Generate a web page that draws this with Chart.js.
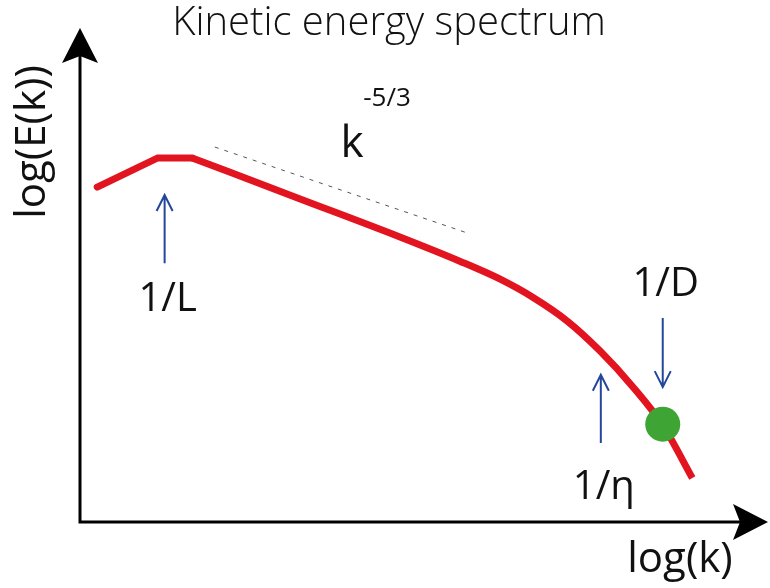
<!DOCTYPE html>
<html>
<head>
<meta charset="utf-8">
<script src="https://cdn.jsdelivr.net/npm/chart.js@4"></script>
<style>
  html, body { margin: 0; padding: 0; background: #fff; }
  #wrap { width: 770px; height: 588px; }
</style>
</head>
<body>
<div id="wrap"><canvas id="chart" width="770" height="588"></canvas></div>
<script>
// spectrum curve, log(k) vs log(E(k)) in arbitrary units (0..10)
// energy-containing part (straight segments round the peak)
const peakK = [0.25, 1.13, 1.63];
const peakE = [6.78, 7.37, 7.37];
// inertial and dissipation range
const tailK = [1.63, 3.2, 4.65, 5.52, 6.1, 6.58, 7.08, 7.56, 8.04, 8.47, 8.9];
const tailE = [7.37, 6.54, 5.77, 5.28, 4.92, 4.55, 4.07, 3.46, 2.73, 1.96, 0.89];

// k^-5/3 guide line
const slopeK = [1.96, 5.63];
const slopeE = [7.59, 5.85];

// dissipation point 1/D
const dotK = [8.47];
const dotE = [1.98];

// marker arrows: x, from y, to y
const arrowNames = ['1/L', '1/η', '1/D'];
const arrowK = [1.23, 7.57, 8.47];
const arrowFrom = [5.24, 1.6, 4.13];
const arrowTo = [6.62, 2.98, 2.73];
const arrowLabelE = [4.5, 0.7, 4.8];

const titleText = 'Kinetic energy spectrum';
const xTitle = 'log(k)';
const yTitle = 'log(E(k))';

const red = '#e2141f';
const blue = '#24479b';
const green = '#3ea535';

function pts(xs, ys) {
    return xs.map((x, i) => ({ x: x, y: ys[i] }));
}

// axes with arrow heads, arrows and labels
const sketchPlugin = {
    id: 'sketch',
    beforeDatasetsDraw(chart) {
        const ctx = chart.ctx;
        const sx = chart.scales.x, sy = chart.scales.y;
        const x0 = sx.getPixelForValue(0), y0 = sy.getPixelForValue(0);
        const xt = sx.getPixelForValue(10), yt = sy.getPixelForValue(10);
        ctx.save();
        ctx.strokeStyle = '#000';
        ctx.fillStyle = '#000';
        ctx.lineWidth = 3;
        ctx.beginPath();
        ctx.moveTo(x0, yt + 20);
        ctx.lineTo(x0, y0);
        ctx.lineTo(xt - 20, y0);
        ctx.stroke();
        // vertical arrow head
        ctx.beginPath();
        ctx.moveTo(x0, yt);
        ctx.lineTo(x0 + 18, yt + 35);
        ctx.lineTo(x0, yt + 28);
        ctx.lineTo(x0 - 18, yt + 35);
        ctx.closePath();
        ctx.fill();
        // horizontal arrow head
        ctx.beginPath();
        ctx.moveTo(xt, y0);
        ctx.lineTo(xt - 35, y0 - 18);
        ctx.lineTo(xt - 28, y0);
        ctx.lineTo(xt - 35, y0 + 18);
        ctx.closePath();
        ctx.fill();
        ctx.restore();
    },
    afterDatasetsDraw(chart) {
        const ctx = chart.ctx;
        const sx = chart.scales.x, sy = chart.scales.y;
        ctx.save();
        // blue arrows
        ctx.strokeStyle = blue;
        ctx.lineWidth = 2;
        arrowK.forEach((k, i) => {
            const px = sx.getPixelForValue(k);
            const pa = sy.getPixelForValue(arrowFrom[i]);
            const pb = sy.getPixelForValue(arrowTo[i]);
            const dir = pb < pa ? 1 : -1;
            ctx.beginPath();
            ctx.moveTo(px, pa);
            ctx.lineTo(px, pb);
            ctx.moveTo(px - 8, pb + dir * 16);
            ctx.lineTo(px, pb);
            ctx.lineTo(px + 8, pb + dir * 16);
            ctx.stroke();
        });
        // arrow labels
        ctx.fillStyle = '#111';
        ctx.font = '40px "Open Sans", sans-serif';
        ctx.textAlign = 'center';
        ctx.textBaseline = 'middle';
        arrowNames.forEach((name, i) => {
            ctx.fillText(name, sx.getPixelForValue(arrowK[i]) + 3, sy.getPixelForValue(arrowLabelE[i]));
        });
        // k^-5/3
        ctx.font = '44px "Open Sans", sans-serif';
        ctx.fillText('k', 352, 144);
        ctx.font = '26px "Open Sans", sans-serif';
        ctx.fillText('-5/3', 387, 99);
        // title and axis names
        ctx.font = '300 40px "Open Sans", sans-serif';
        ctx.fillText(titleText, 389, 24);
        ctx.font = '42px "Open Sans", sans-serif';
        ctx.fillText(xTitle, 680, 560);
        ctx.translate(33, 142);
        ctx.rotate(-Math.PI / 2);
        ctx.fillText(yTitle, 0, 0);
        ctx.restore();
    }
};

const context = document.getElementById('chart').getContext('2d');
const chart = new Chart(context, {
    type: 'line',
    data: {
        datasets: [
            {
                label: 'dot',
                data: pts(dotK, dotE),
                showLine: false,
                pointRadius: 17.5,
                pointBackgroundColor: green,
                pointBorderWidth: 0,
                order: 0
            },
            {
                label: 'spectrum peak',
                data: pts(peakK, peakE),
                borderColor: red,
                borderWidth: 7,
                borderCapStyle: 'round',
                tension: 0,
                pointRadius: 0,
                fill: false,
                order: 1
            },
            {
                label: 'spectrum tail',
                data: pts(tailK, tailE),
                borderColor: red,
                borderWidth: 7,
                borderCapStyle: 'butt',
                cubicInterpolationMode: 'monotone',
                pointRadius: 0,
                fill: false,
                order: 1
            },
            {
                label: 'k^-5/3',
                data: pts(slopeK, slopeE),
                borderColor: '#555',
                borderWidth: 1,
                borderDash: [4, 6],
                pointRadius: 0,
                fill: false,
                order: 2
            }
        ]
    },
    options: {
        responsive: false,
        animation: false,
        layout: { autoPadding: false, padding: { left: 80, right: 2, top: 28, bottom: 66 } },
        plugins: { legend: { display: false }, tooltip: { enabled: false } },
        scales: {
            x: { type: 'linear', min: 0, max: 10, display: false },
            y: { type: 'linear', min: 0, max: 10, display: false }
        }
    },
    plugins: [sketchPlugin]
});
</script>
</body>
</html>
